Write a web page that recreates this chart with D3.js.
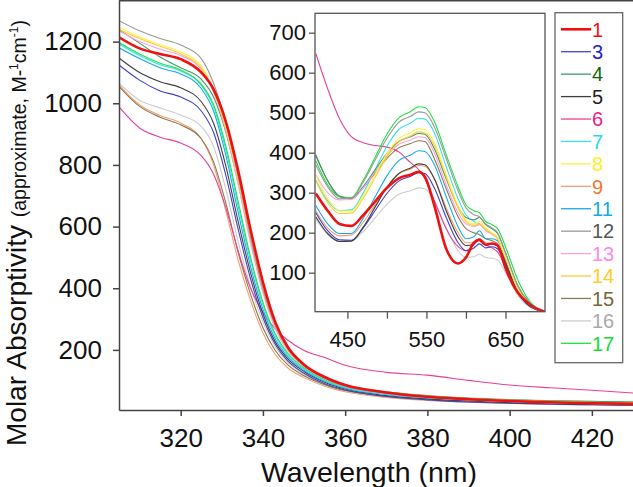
<!DOCTYPE html>
<html><head><meta charset="utf-8">
<script src="https://cdn.jsdelivr.net/npm/d3@7"></script>
<style>
body{margin:0;background:#fff}
svg{display:block}
text{font-family:"Liberation Sans",Arial,sans-serif}
</style>
</head><body>
<svg id="c" width="633" height="487"></svg>
<script>
// ---------- data ----------
const seriesNames = ["1","3","4","5","6","7","8","9","11","12","13","14","15","16","17"];
const lineColors = ["#ee1111","#4040cc","#3c9a6c","#404040","#e8409a","#38e0f0","#fff040","#f4a070","#18a8e8","#999999","#ffa0e0","#ffcc33","#8c7a50","#cccccc","#22e044"];
const textColors = ["#ee1111","#2222cc","#116611","#222222","#ee2288","#22ddee","#ffee22","#ee7733","#11aaee","#555555","#ff88dd","#ffcc22","#776633","#aaaaaa","#11dd33"];

const mainTicksX = [320,340,360,380,400,420];
const mainTicksY = [200,400,600,800,1000,1200];
const insetTicksX = [450,500,550,600,650];
const insetLabelsX = [450,550,650];
const insetTicksY = [100,200,300,400,500,600,700];

const mainWavelengths = [305,310,315,320,325,328,331,334,337,340,343,346,350,355,360,370,380,390,400,410,420,430];
const main1  = [1214,1178,1160,1143,1100,1045,940,780,590,420,290,210,152,112,86,62,48,40,34,30,27,25];
const main3  = [1124,1075,1040,1020,975,905,765,590,430,305,218,165,124,90,70,49,38,31,27,24,22,21];
const main4  = [1238,1195,1150,1115,1078,1020,905,740,555,395,280,205,152,112,87,64,52,44,39,35,33,31];
const main5  = [1147,1100,1070,1050,1005,935,795,615,450,318,226,172,130,95,73,52,41,34,29,26,23,21];
const main6  = [988,920,890,871,830,770,660,520,400,322,268,232,198,175,150,127,118,101,86,77,69,60];
const main7  = [1192,1155,1125,1105,1058,988,848,665,488,345,245,184,138,101,78,56,45,38,33,29,26,24];
const main8  = [1247,1215,1190,1166,1120,1045,925,755,565,400,280,205,150,109,84,61,48,40,34,30,27,25];
const main9  = [1060,995,960,936,885,800,650,490,360,255,185,142,110,82,64,46,36,30,26,23,21,20];
const main11 = [1180,1145,1115,1095,1048,975,830,645,470,332,235,178,134,98,76,55,44,37,32,28,25,23];
const main12 = [1268,1235,1210,1189,1145,1065,935,760,565,398,278,203,148,107,82,59,46,38,33,29,26,24];
const main13 = [1235,1200,1175,1155,1110,1035,910,735,545,385,268,198,146,106,82,59,46,38,33,29,26,24];
const main14 = [1240,1210,1185,1160,1115,1040,920,750,560,398,278,203,150,110,85,63,50,42,37,33,30,28];
const main15 = [1055,990,955,930,885,810,675,515,380,272,198,152,116,87,68,50,41,35,31,28,26,25];
const main16 = [1065,1010,985,962,925,860,720,550,405,290,210,160,120,88,68,49,39,32,28,25,23,21];
const main17 = [1197,1160,1130,1108,1062,995,860,680,500,355,252,190,142,104,81,60,49,42,37,34,32,31];

const insetWavelengths = [410,425,440,455,470,485,500,515,530,540,548,560,575,590,600,610,617,625,633,640,650,665,680,700];
const inset1  = [298,255,222,217,244,278,312,336,345,352,340,268,160,123,138,175,182,170,173,168,112,52,22,2];
const inset3  = [250,205,182,181,212,255,298,329,341,350,348,312,238,175,155,162,172,162,165,160,120,52,17,2];
const inset4  = [392,330,292,285,315,357,398,428,440,448,446,410,335,265,238,232,238,220,210,198,150,70,25,2];
const inset5  = [240,198,178,179,214,264,313,348,362,372,370,335,255,190,168,172,182,170,172,168,125,55,18,2];
const inset6  = [648,560,485,440,425,418,414,402,375,358,335,280,210,165,155,170,185,170,162,152,115,52,20,2];
const inset7  = [332,280,255,257,299,357,416,458,474,486,484,450,365,285,245,228,222,208,198,188,140,65,22,2];
const inset8  = [344,285,255,254,292,345,397,435,450,460,458,425,345,268,232,222,228,212,200,188,140,62,22,2];
const inset9  = [255,212,192,194,226,270,315,347,359,368,366,335,262,200,175,175,185,175,172,168,125,55,18,2];
const inset11 = [268,222,198,198,236,289,342,380,394,405,403,370,290,215,185,190,205,185,185,180,135,60,20,2];
const inset12 = [370,315,285,286,326,381,436,476,491,502,500,465,385,305,262,245,240,222,212,200,150,70,25,2];
const inset13 = [345,300,282,283,312,352,392,421,432,440,438,400,320,250,222,215,220,205,196,185,138,62,22,2];
const inset14 = [330,275,248,249,286,338,390,427,442,452,450,418,340,262,228,218,222,208,198,185,138,62,22,2];
const inset15 = [395,330,290,285,312,349,386,412,423,430,428,385,310,240,210,200,195,185,180,172,130,58,20,2];
const inset16 = [235,195,178,179,203,237,271,296,305,312,310,278,212,155,138,140,146,138,136,132,100,45,15,2];
const inset17 = [380,320,290,288,331,388,446,487,503,515,513,478,395,315,270,255,250,228,220,210,165,85,30,2];

const mainSeries  = [main1,main3,main4,main5,main6,main7,main8,main9,main11,main12,main13,main14,main15,main16,main17];
const insetSeries = [inset1,inset3,inset4,inset5,inset6,inset7,inset8,inset9,inset11,inset12,inset13,inset14,inset15,inset16,inset17];

// ---------- drawing ----------
const svg = d3.select("#c");
const axisColor = "#444";
const drawOrder = [13,7,12,4,1,3,8,5,14,2,10,11,6,9,0];
const fmt = d3.format("d");

// main scales
const x = d3.scaleLinear().domain([305,430]).range([119,633]);
const y = d3.scaleLinear().domain([5,1335]).range([410,0]);

const defs = svg.append("defs");
defs.append("clipPath").attr("id","mainClip")
  .append("rect").attr("x",119).attr("y",0).attr("width",514).attr("height",410);
defs.append("clipPath").attr("id","insetClip")
  .append("rect").attr("x",315).attr("y",13.3).attr("width",230).attr("height",298.4);

const mainLine = d3.line().curve(d3.curveMonotoneX)
  .x((d,i)=>x(mainWavelengths[i])).y(d=>y(d));

const gMain = svg.append("g").attr("clip-path","url(#mainClip)");
drawOrder.forEach(k=>{
  gMain.append("path").datum(mainSeries[k])
    .attr("d",mainLine).attr("fill","none")
    .attr("stroke",lineColors[k])
    .attr("stroke-width",k===0?2.6:1.1);
});

// main axes
const ax = svg.append("g").attr("transform","translate(0,410)")
  .call(d3.axisBottom(x).tickValues(mainTicksX).tickFormat(fmt).tickSize(6).tickSizeOuter(0).tickPadding(13));
const ay = svg.append("g").attr("transform","translate(119,0)")
  .call(d3.axisLeft(y).tickValues(mainTicksY).tickFormat(fmt).tickSize(6).tickSizeOuter(0).tickPadding(11));
[ax,ay].forEach(g=>{
  g.selectAll("path,line").attr("stroke",axisColor).attr("stroke-width",1.5);
  g.selectAll("text").attr("fill","#111").style("font-size","26px");
});
svg.append("line").attr("x1",119).attr("x2",633).attr("y1",0.75).attr("y2",0.75)
  .attr("stroke",axisColor).attr("stroke-width",1.5);

// titles
svg.append("text").attr("x",369).attr("y",482).attr("text-anchor","middle")
  .style("font-size","28.5px").attr("fill","#111").text("Wavelength (nm)");
const yt = svg.append("text").attr("transform","translate(25.5,446) rotate(-90)")
  .attr("fill","#111").style("font-size","28px");
yt.append("tspan").text("Molar Absorptivity ");
yt.append("tspan").style("font-size","19.5px").text("(approximate, M-");
yt.append("tspan").style("font-size","12px").attr("dy",-8).text("1");
yt.append("tspan").style("font-size","19.5px").attr("dy",8).text("cm");
yt.append("tspan").style("font-size","12px").attr("dy",-8).text("-1");
yt.append("tspan").style("font-size","19.5px").attr("dy",8).text(")");

// inset
const ix = d3.scaleLinear().domain([409,700]).range([315,545]);
const iy = d3.scaleLinear().domain([2.5,748.5]).range([311.7,13.3]);
svg.append("rect").attr("x",315).attr("y",13.3).attr("width",230).attr("height",298.4)
  .attr("fill","#fff");
const insetLine = d3.line().curve(d3.curveMonotoneX)
  .x((d,i)=>ix(insetWavelengths[i])).y(d=>iy(d));
const gIn = svg.append("g").attr("clip-path","url(#insetClip)");
drawOrder.forEach(k=>{
  gIn.append("path").datum(insetSeries[k])
    .attr("d",insetLine).attr("fill","none")
    .attr("stroke",lineColors[k])
    .attr("stroke-width",k===0?2.6:1.1);
});
svg.append("rect").attr("x",315).attr("y",13.3).attr("width",230).attr("height",298.4)
  .attr("fill","none").attr("stroke","#555").attr("stroke-width",1.3);
const iax = svg.append("g").attr("transform","translate(0,311.7)")
  .call(d3.axisBottom(ix).tickValues(insetTicksX).tickSize(7).tickSizeOuter(0).tickPadding(13)
    .tickFormat(d=>insetLabelsX.includes(d)?fmt(d):""));
const iay = svg.append("g").attr("transform","translate(315,0)")
  .call(d3.axisLeft(iy).tickValues(insetTicksY).tickFormat(fmt).tickSize(6).tickSizeOuter(0).tickPadding(3));
[iax,iay].forEach(g=>{
  g.select(".domain").remove();
  g.selectAll("line").attr("stroke","#555").attr("stroke-width",1.3);
  g.selectAll("text").attr("fill","#111").style("font-size","22px");
});

// legend
svg.append("rect").attr("x",555).attr("y",12.7).attr("width",67.7).attr("height",350)
  .attr("fill","#fff").attr("stroke","#666").attr("stroke-width",1.3);
const lg = svg.append("g");
seriesNames.forEach((n,i)=>{
  const cy = 29.3 + i*22.43;
  lg.append("line").attr("x1",561).attr("x2",591).attr("y1",cy).attr("y2",cy)
    .attr("stroke",lineColors[i]).attr("stroke-width",i===0?2.6:1.3);
  lg.append("text").attr("x",592).attr("y",cy).attr("dy","0.36em")
    .style("font-size","20px").attr("fill",textColors[i]).text(n);
});
</script>
</body></html>
